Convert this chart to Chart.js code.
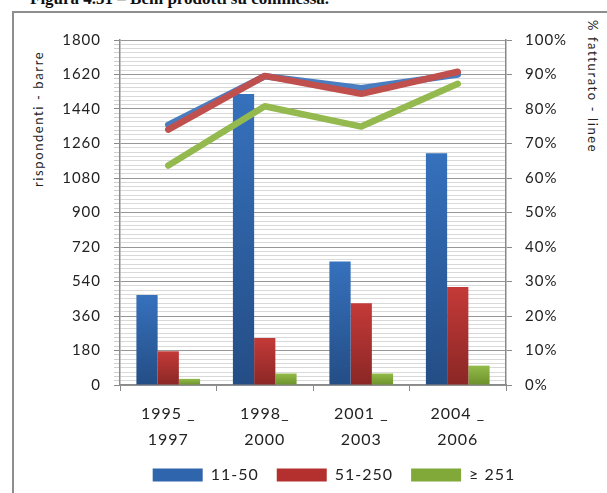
<!DOCTYPE html>
<html>
<head>
<meta charset="utf-8">
<script src="https://cdn.jsdelivr.net/npm/chart.js@4/dist/chart.umd.min.js"></script>
<style>
  html, body { margin: 0; padding: 0; background: #ffffff; }
  body { width: 607px; height: 493px; position: relative; overflow: hidden; }
  #frame { position: absolute; left: 12px; top: 11px; width: 640px; height: 520px;
           border-left: 2px solid #8e8e8e; border-top: 2px solid #8e8e8e; }
  #fig { position: absolute; left: 30px; top: -11px; font: bold 17px "Liberation Serif", serif;
         color: #111; white-space: nowrap; }
  .ytitle { position: absolute; font: 13px Lato, sans-serif; color: #222; white-space: nowrap;
            letter-spacing: 1.6px; }
  #ylt { left: 38px; top: 22px; transform-origin: 0 0; transform: translate(-8px, 165px) rotate(-90deg); }
  #yrt { left: 593px; top: 20px; transform-origin: 0 0; transform: translate(8px, 0) rotate(90deg); }
  #wrap { position: absolute; left: 0; top: 0; width: 607px; height: 493px; }
</style>
</head>
<body>
<div id="frame"></div>
<div id="fig">Figura 4.51 – Beni prodotti su commessa.</div>
<div class="ytitle" id="ylt">rispondenti - barre</div>
<div class="ytitle" id="yrt">% fatturato - linee</div>
<div id="wrap"><canvas id="c" width="607" height="493"></canvas></div>
<script>
// ---- data ----
const categories = [['1995 _', '1997'], ['1998_', '2000'], ['2001 _', '2003'], ['2004 _', '2006']];
const seriesNames = ['11-50', '51-250', '\u2265 251'];
// number of respondents (bars, left axis)
const bars1150 = [470, 1518, 644, 1209];
const bars51250 = [176, 245, 426, 511];
const bars251 = [32, 60, 60, 101];
// % of turnover (lines, right axis)
const line1150 = [75.4, 89.5, 86.0, 90.0];
const line51250 = [74.0, 89.6, 84.4, 90.8];
const line251 = [63.6, 80.8, 74.9, 87.3];
// axis ranges / tick steps
const leftMax = 1800, leftMajor = 180, leftMinor = 22.5;
const rightMax = 100, rightStep = 10;

function barGrad(top, bottom) {
  return (c) => {
    const ch = c.chart, a = ch.chartArea;
    if (!a || c.type !== 'data') return bottom;
    const yt = ch.scales.y.getPixelForValue(c.raw);
    const g = ch.ctx.createLinearGradient(0, yt, 0, a.bottom);
    g.addColorStop(0, top);
    g.addColorStop(1, bottom);
    return g;
  };
}
const solid = ['#2f65ad', '#b3302f', '#80a93a'];

const spacing = {
  id: 'spacing',
  beforeLayout(ch) { ch.ctx.letterSpacing = '1px'; },
  beforeDraw(ch) { ch.ctx.letterSpacing = '1px'; },
  beforeDatasetsDraw(ch) { ch.ctx.letterSpacing = '1px'; }
};

new Chart(document.getElementById('c'), {
  data: {
    labels: categories,
    datasets: [
      { type: 'bar', label: seriesNames[0], data: bars1150, yAxisID: 'y', order: 10,
        backgroundColor: barGrad('#3671bd', '#244d85'), borderWidth: 0,
        categoryPercentage: 0.66, barPercentage: 1.0 },
      { type: 'bar', label: seriesNames[1], data: bars51250, yAxisID: 'y', order: 10,
        backgroundColor: barGrad('#c43a38', '#8a2725'), borderWidth: 0,
        categoryPercentage: 0.66, barPercentage: 1.0 },
      { type: 'bar', label: seriesNames[2], data: bars251, yAxisID: 'y', order: 10,
        backgroundColor: barGrad('#93bb48', '#6c912c'), borderWidth: 0,
        categoryPercentage: 0.66, barPercentage: 1.0 },
      { type: 'line', label: seriesNames[0] + ' %', data: line1150, yAxisID: 'y1', order: 3,
        borderColor: '#4a7dc0', borderWidth: 6.5, pointRadius: 0, tension: 0,
        borderJoinStyle: 'round', borderCapStyle: 'round' },
      { type: 'line', label: seriesNames[1] + ' %', data: line51250, yAxisID: 'y1', order: 2,
        borderColor: '#c0504d', borderWidth: 6.5, pointRadius: 0, tension: 0,
        borderJoinStyle: 'round', borderCapStyle: 'round' },
      { type: 'line', label: seriesNames[2] + ' %', data: line251, yAxisID: 'y1', order: 1,
        borderColor: '#94ba4f', borderWidth: 6.5, pointRadius: 0, tension: 0,
        borderJoinStyle: 'round', borderCapStyle: 'round' }
    ]
  },
  options: {
    responsive: false,
    animation: false,
    layout: { padding: { left: 61, right: 0, top: 40, bottom: 0 } },
    plugins: {
      tooltip: { enabled: false },
      title: { display: false },
      legend: {
        position: 'bottom',
        labels: {
          boxWidth: 50, boxHeight: 13, padding: 18,
          color: '#222', font: { family: 'Lato', size: 16 },
          filter: (it) => it.datasetIndex < 3,
          generateLabels: (ch) => Chart.defaults.plugins.legend.labels.generateLabels(ch).map((l) => {
            if (l.datasetIndex < 3) { l.fillStyle = solid[l.datasetIndex]; }
            l.lineWidth = 0; l.strokeStyle = 'rgba(0,0,0,0)';
            return l;
          })
        }
      }
    },
    scales: {
      x: {
        offset: true,
        grid: { offset: true, drawOnChartArea: false, tickLength: 6, tickColor: '#8a8a8a' },
        border: { color: '#8a8a8a', width: 1.5 },
        ticks: { color: '#222', padding: 10, font: { family: 'Lato', size: 16, lineHeight: 1.62 }, maxRotation: 0 },
        afterFit: (s) => { s.height = 64; }
      },
      y: {
        position: 'left', min: 0, max: leftMax,
        ticks: {
          stepSize: leftMinor, maxTicksLimit: 1000, autoSkip: false,
          color: '#222', padding: 13, font: { family: 'Lato', size: 15 },
          callback: (v) => (Math.round(v * 10) % (leftMajor * 10) === 0 ? String(v) : '')
        },
        grid: {
          tickLength: 6,
          color: (c) => (c.tick && Math.round(c.tick.value * 10) % (leftMajor * 10) === 0 ? '#979797' : '#d9d9d9'),
          tickColor: (c) => (c.tick && Math.round(c.tick.value * 10) % (leftMajor * 10) === 0 ? '#8a8a8a' : '#cfcfcf'),
          lineWidth: 1
        },
        border: { color: '#8a8a8a', width: 1.5 },
        afterFit: (s) => { s.width = 59; }
      },
      y1: {
        position: 'right', min: 0, max: rightMax,
        ticks: { stepSize: rightStep, color: '#222', padding: 13, font: { family: 'Lato', size: 15 },
                 callback: (v) => v + '%' },
        grid: { drawOnChartArea: false, tickLength: 6, tickColor: '#8a8a8a' },
        border: { color: '#8a8a8a', width: 1.5 },
        afterFit: (s) => { s.width = 101; }
      }
    }
  },
  plugins: [spacing]
});
</script>
</body>
</html>
